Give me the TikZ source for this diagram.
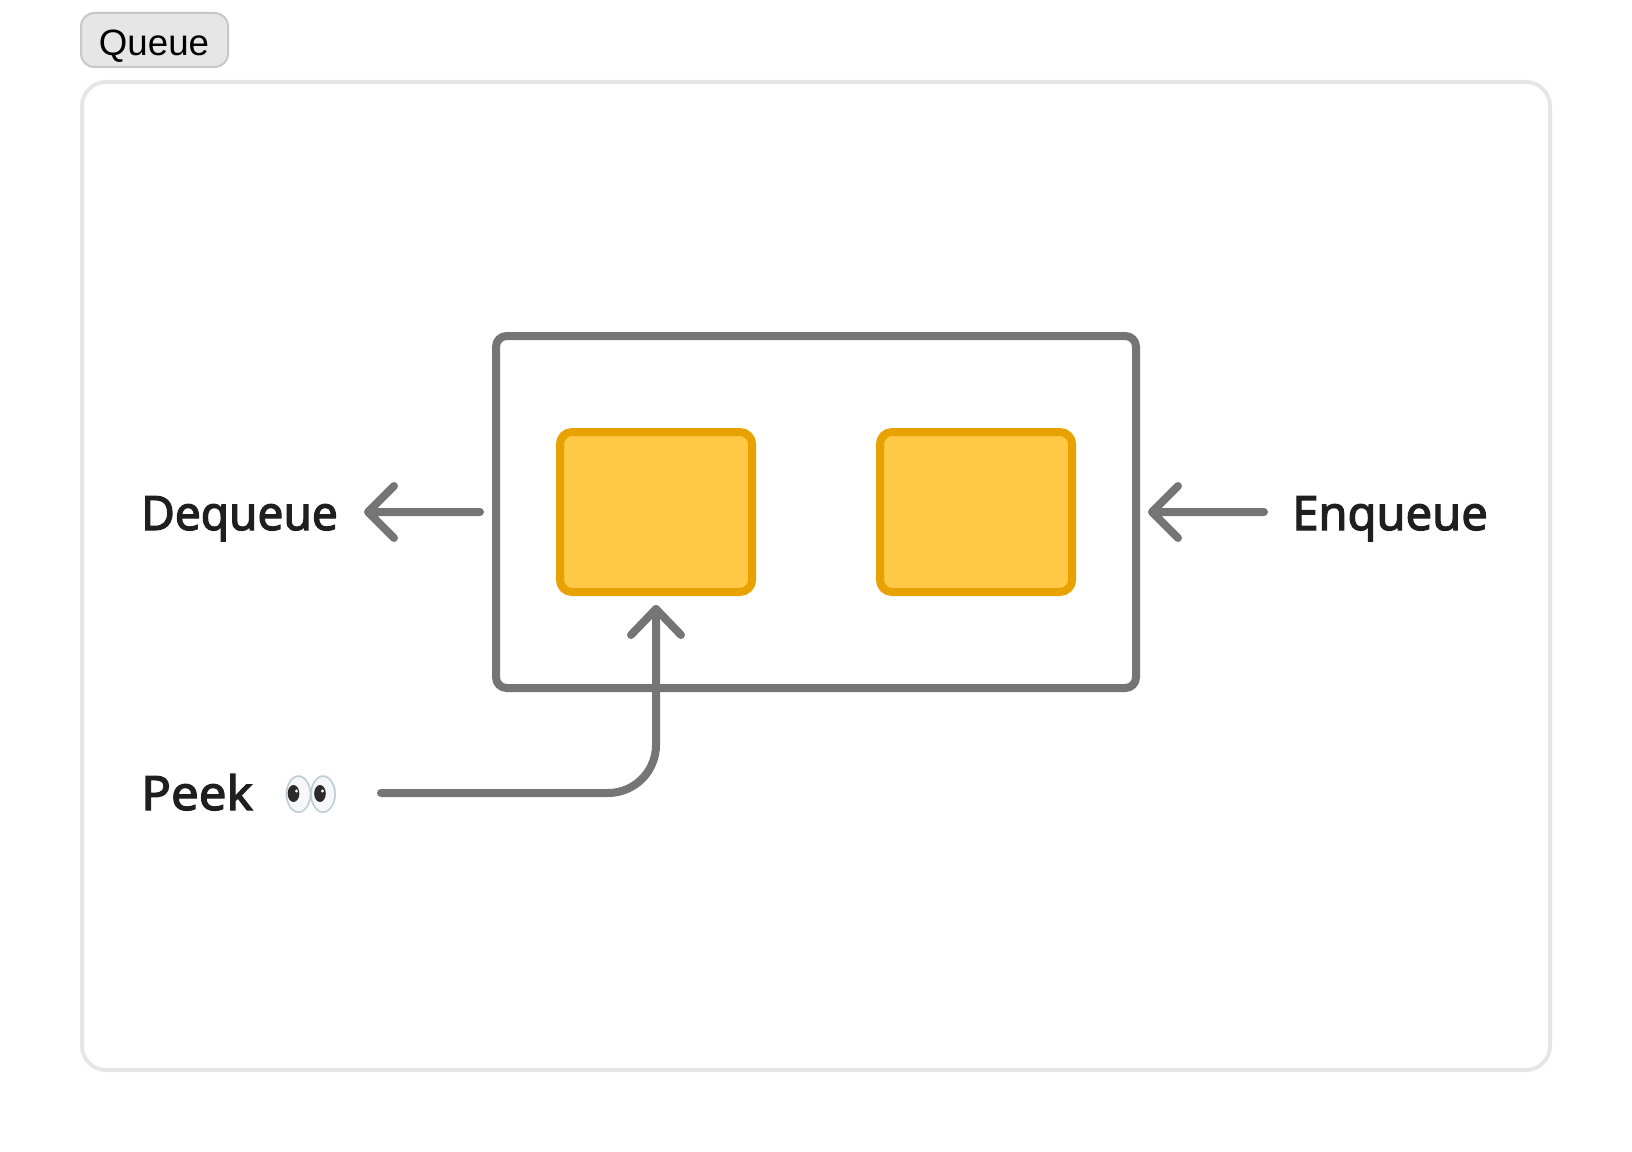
\documentclass[tikz,border=0pt]{standalone}
\usepackage{fontspec}
\setmainfont{Noto Sans}
\newfontfamily\dqfont[FakeStretch=0.972]{Noto Sans}
\newfontfamily\eqfont[FakeStretch=0.995]{Noto Sans}
\newfontfamily\pkfont[FakeStretch=1.04]{Noto Sans}
\newfontfamily\btnfont{Liberation Sans}
\newfontfamily\emojifont{Noto Emoji}
\newcommand{\heavytext}[1]{\special{pdf:code 2 Tr 0.9 w 0.122 0.122 0.122 RG}#1\special{pdf:code 0 Tr}}
\definecolor{gline}{HTML}{757575}
\definecolor{ofill}{HTML}{FFC845}
\definecolor{oline}{HTML}{E8A200}
\definecolor{framec}{HTML}{E6E6E6}
\definecolor{txt}{HTML}{1F1F1F}
\definecolor{eyeline}{HTML}{BCCCD4}
\definecolor{eyefill}{HTML}{F6F7F8}
\definecolor{pupil}{HTML}{2B2B2B}
\tikzset{
  px/.style={x=0.75pt,y=-0.75pt},
  cell/.style={draw=oline,fill=ofill,line width=6pt,rounded corners=9pt},
  conn/.style={draw=gline,line width=6pt,line cap=round,line join=round},
  lbl/.style={text=txt,inner sep=0pt,anchor=base west},
}
\begin{document}
\begin{tikzpicture}[px]
\useasboundingbox (0,0) rectangle (1632,1152);
\fill[white] (0,0) rectangle (1632,1152);
\draw[fill=framec,line width=1.5pt,rounded corners=10pt,draw=black!22] (81,13) rectangle (228,67);
\node[inner sep=0pt,anchor=base,font=\btnfont\fontsize{27.5}{30}\selectfont] (btn) at (154,56) {Queue};
\draw[framec,line width=3pt,rounded corners=18pt] (82,82) rectangle (1550,1070);
\draw[gline,line width=6pt,rounded corners=8pt] (496,336) rectangle (1136,688);
\draw[cell] (560,432) rectangle (752,592);
\draw[cell] (880,432) rectangle (1072,592);
\node[lbl,font=\dqfont\fontsize{35.5}{40}\selectfont] (dq) at (141,530) {\heavytext{Dequeue}};
\node[lbl,font=\eqfont\fontsize{35.5}{40}\selectfont] (eq) at (1292,530) {\heavytext{Enqueue}};
\node[lbl,font=\pkfont\fontsize{35.5}{40}\selectfont] (pk) at (141,810) {\heavytext{Peek}};
\fill[eyefill] (298,793) ellipse [x radius=12.5,y radius=18.5];
\fill[eyefill] (323.5,793) ellipse [x radius=12.5,y radius=18.5];
\node[inner sep=0pt,anchor=base west,text=eyeline,font=\emojifont\fontsize{32.5}{36}\selectfont] (eyes) at (283,809) {👀};
\fill[pupil] (293.5,793.5) ellipse [x radius=5.8,y radius=8.5];
\fill[pupil] (320,793.5) ellipse [x radius=5.8,y radius=8.5];
\fill[white] (296.5,791) circle [radius=1.6];
\fill[white] (322.5,791) circle [radius=1.6];
\coordinate (a1s) at (480,512); \coordinate (a1e) at (368,512);
\coordinate (a2s) at (1264,512); \coordinate (a2e) at (1152,512);
\coordinate (a3s) at (381,793); \coordinate (a3e) at (656,609);
\draw[conn] (a1s) -- (a1e) (394,486) -- (a1e) -- (394,538);
\draw[conn] (a2s) -- (a2e) (1178,486) -- (a2e) -- (1178,538);
\draw[conn,rounded corners=36pt] (a3s) -- (656,793) -- (a3e);
\draw[conn] (631,635) -- (a3e) -- (681,635);
\end{tikzpicture}
\end{document}
